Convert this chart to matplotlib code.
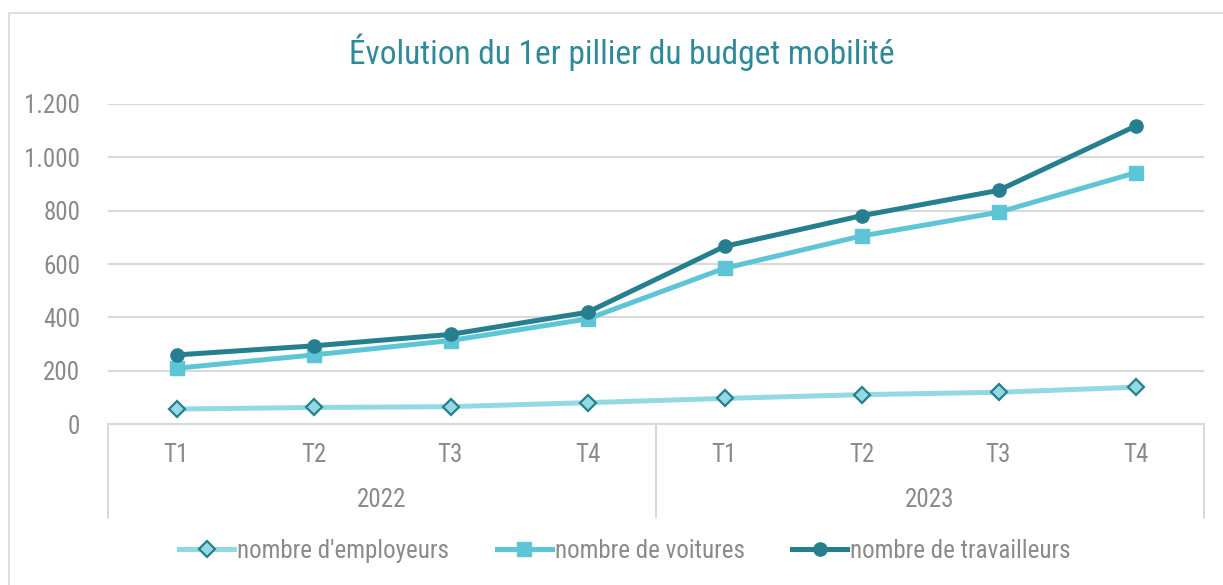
import matplotlib
matplotlib.use("Agg")
import matplotlib.pyplot as plt
from matplotlib import font_manager
from matplotlib.ticker import FuncFormatter, MultipleLocator
from matplotlib.lines import Line2D
from matplotlib.patches import Rectangle

# ---- data ----
quarters = ["T1", "T2", "T3", "T4", "T1", "T2", "T3", "T4"]
years = ["2022", "2023"]
employeurs = [56, 62, 65, 80, 96, 110, 119, 138]
voitures = [209, 259, 313, 394, 584, 705, 794, 942]
travailleurs = [259, 293, 336, 419, 666, 781, 876, 1117]
title = "Évolution du 1er pillier du budget mobilité"

# ---- font choice: prefer a condensed face ----
def pick_font(cands):
    for c in cands:
        try:
            font_manager.findfont(font_manager.FontProperties(family=c), fallback_to_default=False)
            return c
        except Exception:
            continue
    return "DejaVu Sans"

FONT = pick_font(["Liberation Sans Narrow", "DejaVu Sans Condensed", "Roboto Condensed",
                  "Open Sans Condensed", "Lato"])
plt.rcParams["font.family"] = [FONT, "DejaVu Sans"]

GREY = "#8A8A8A"
GRID = "#D9D9D9"
DARK = "#267F8E"
MID = "#5EC5D6"
LIGHT = "#92D9E3"
FS = 18

W, H = 1223, 585
fig = plt.figure(figsize=(W / 100, H / 100), dpi=100)

# chart border
fig.patches.append(Rectangle((9 / W, -0.05), 1.2, (H - 13) / H + 0.05, transform=fig.transFigure,
                             fill=False, edgecolor="#D9D9D9", linewidth=1.2))

x0, x1 = 108, 1204
ytop, ybot = 104, 424
ax = fig.add_axes([x0 / W, (H - ybot) / H, (x1 - x0) / W, (ybot - ytop) / H])

x = list(range(len(quarters)))
ax.plot(x, employeurs, color=LIGHT, lw=3.6, marker="D", ms=8.5, mfc=LIGHT, mec=DARK, mew=1.6,
        label="nombre d'employeurs", zorder=3)
ax.plot(x, voitures, color=MID, lw=3.6, marker="s", ms=9.5, mfc=MID, mec=MID,
        label="nombre de voitures", zorder=4)
ax.plot(x, travailleurs, color=DARK, lw=3.6, marker="o", ms=9.5, mfc=DARK, mec=DARK,
        label="nombre de travailleurs", zorder=5)

ax.set_xlim(-0.5, len(quarters) - 0.5)
ax.set_ylim(0, 1200)
ax.yaxis.set_major_locator(MultipleLocator(200))
ax.yaxis.set_major_formatter(FuncFormatter(lambda v, p: f"{int(v):,}".replace(",", ".")))
ax.grid(axis="y", color=GRID, lw=1.5)
ax.set_axisbelow(True)
for s in ["top", "right", "left"]:
    ax.spines[s].set_visible(False)
ax.spines["bottom"].set_color(GRID)
ax.spines["bottom"].set_linewidth(1.5)
ax.set_xticks([])
ax.tick_params(axis="y", length=0, pad=20, labelsize=FS, labelcolor=GREY)

tr = ax.get_xaxis_transform()
for i, q in enumerate(quarters):
    ax.text(i, -0.097, q, transform=tr, ha="center", va="center", fontsize=FS, color=GREY)
for j, yr in enumerate(years):
    ax.text(j * 4 + 1.5, -0.2375, yr, transform=tr, ha="center", va="center", fontsize=FS, color=GREY)
for xs in [-0.5, 3.5, 7.5]:
    ax.plot([xs, xs], [0, -0.29], transform=tr, color=GRID, lw=1.5, clip_on=False)

fig.text(622 / W, (H - 52) / H, title, ha="center", va="center", fontsize=24, color="#2E8A98")

handles = [
    Line2D([], [], color=LIGHT, lw=3.6, marker="D", ms=8.5, mfc=LIGHT, mec=DARK, mew=1.6),
    Line2D([], [], color=MID, lw=3.6, marker="s", ms=9.5, mfc=MID, mec=MID),
    Line2D([], [], color=DARK, lw=3.6, marker="o", ms=9.5, mfc=DARK, mec=DARK),
]
labels = ["nombre d'employeurs", "nombre de voitures", "nombre de travailleurs"]
fig.legend(handles, labels, loc="center", bbox_to_anchor=(625 / W, (H - 551) / H), ncol=3,
           frameon=False, fontsize=FS, labelcolor=GREY, handlelength=2.2, handletextpad=0.12,
           columnspacing=1.9)

fig.savefig("out.png", dpi=100)
